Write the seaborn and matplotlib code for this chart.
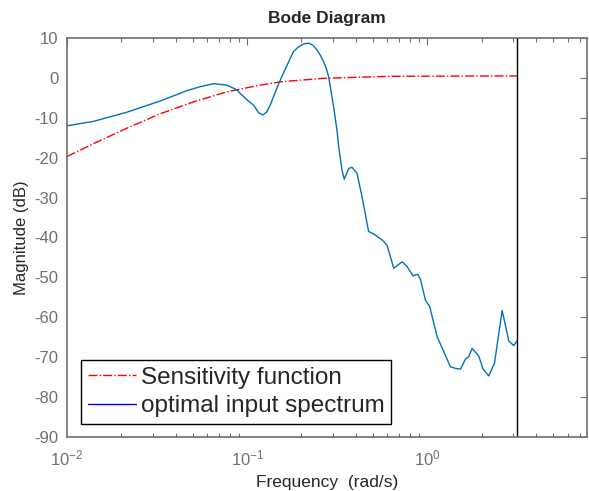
import numpy as np
import pandas as pd
import seaborn as sns
import matplotlib.pyplot as plt
from matplotlib.lines import Line2D

## Values (frequency in rad/s, magnitude in dB)
sens_freq = [0.01, 0.0140, 0.02149, 0.03286, 0.05035, 0.07707, 0.1180,
             0.1560, 0.2655, 0.6223, 3.1416]
sens_db = [-19.7, -16.5, -12.6, -9.0, -6.0, -3.5, -1.8,
           -0.95, -0.1, 0.4, 0.5]

spec_freq = [0.01, 0.0140, 0.02149, 0.02654, 0.03286, 0.04624, 0.05483,
             0.06501, 0.07707, 0.08769, 0.09141, 0.1040, 0.1084, 0.1156,
             0.1222, 0.1286, 0.1342, 0.1400, 0.1472, 0.1545, 0.1733,
             0.1807, 0.1929, 0.2056, 0.2194, 0.2317, 0.2440, 0.2545,
             0.2655, 0.2748, 0.2830, 0.3016, 0.3148, 0.3215, 0.3357,
             0.3457, 0.3656, 0.3817, 0.4068, 0.4337, 0.4720, 0.5031,
             0.5603, 0.5973, 0.6501, 0.7236, 0.7713, 0.8326, 0.8831,
             0.9141, 0.9747, 1.030, 1.133, 1.233, 1.343, 1.432, 1.526,
             1.626, 1.695, 1.771, 1.928, 2.038, 2.191, 2.357, 2.600,
             2.830, 3.015, 3.1416]
spec_db = [-12.0, -10.9, -8.6, -7.2, -5.8, -3.2, -2.2,
           -1.45, -1.8, -3.0, -3.9, -6.2, -6.8, -8.7,
           -9.3, -8.5, -6.8, -4.7, -2.2, 0.0, 4.9,
           6.6, 7.8, 8.5, 8.7, 8.2, 7.0, 5.7,
           4.1, 2.4, 0.3, -7.2, -13.1, -17.0, -23.1,
           -25.4, -22.7, -22.4, -23.9, -29.8, -38.5, -39.1,
           -40.6, -41.9, -47.7, -46.1, -47.3, -49.6, -49.2,
           -50.4, -55.7, -57.3, -64.9, -68.6, -72.4, -72.8, -73.0,
           -70.5, -69.9, -67.8, -69.7, -73.0, -74.7, -71.5, -58.3,
           -65.9, -67.1, -65.9]

nyquist = 3.1416
y_ticks = list(range(-90, 11, 10))

sens = pd.DataFrame({"w": sens_freq, "mag": sens_db})
spec = pd.DataFrame({"w": spec_freq, "mag": spec_db})

sns.set_theme(style="white")
plt.rcParams['font.family'] = ['Liberation Sans', 'DejaVu Sans']
plt.rcParams['axes.unicode_minus'] = False
plt.rcParams['mathtext.fontset'] = 'custom'
plt.rcParams['mathtext.rm'] = 'Liberation Sans'
plt.rcParams['mathtext.it'] = 'Liberation Sans:italic'

fig = plt.figure(figsize=(5.89, 4.91), dpi=100)
ax = fig.add_axes([0.1138, 0.11, 0.883, 0.8126])

sns.lineplot(data=sens, x="w", y="mag", ax=ax, color="red", lw=1,
             linestyle="-.", sort=False)
sns.lineplot(data=spec, x="w", y="mag", ax=ax, color="#0072BD", lw=1,
             sort=False)
ax.axvline(nyquist, color="black", lw=1)

ax.set_xscale("log")
ax.set_xlim(0.01, 7.7)
ax.set_ylim(-90, 10)
ax.set_yticks(y_ticks)

grey = "#707070"
for s in ax.spines.values():
    s.set_color(grey)
    s.set_linewidth(1.2)
ax.tick_params(which="both", direction="in", top=True, right=True,
               colors=grey, labelsize=12)
ax.tick_params(which="major", length=5, width=0.8)
ax.tick_params(which="minor", length=3, width=0.8, bottom=True, top=True)
ax.tick_params(axis="x", which="major", pad=8)
ax.tick_params(axis="y", which="major", pad=6)
for lbl in ax.get_xticklabels() + ax.get_yticklabels():
    lbl.set_color(grey)

ax.set_title("Bode Diagram", fontsize=12.5, fontweight="bold", pad=11)
ax.set_xlabel("Frequency  (rad/s)", fontsize=12.5, color="#262626", labelpad=5)
ax.set_ylabel("Magnitude (dB)", fontsize=12, color="#262626", labelpad=4)

# legend shows pure blue, as in the reference
handles = [Line2D([], [], color="red", lw=1, linestyle="-."),
           Line2D([], [], color="blue", lw=1)]
leg = ax.legend(handles, ["Sensitivity function", "optimal input spectrum"],
                loc="lower left", bbox_to_anchor=(0.027, 0.033),
                borderaxespad=0, fontsize=17.5, fancybox=False,
                handlelength=2.0, handletextpad=0.2, borderpad=0.27,
                labelspacing=0.27, framealpha=1)
leg.get_frame().set_edgecolor("black")
leg.get_frame().set_linewidth(1)

fig.savefig("out.png", dpi=100)
